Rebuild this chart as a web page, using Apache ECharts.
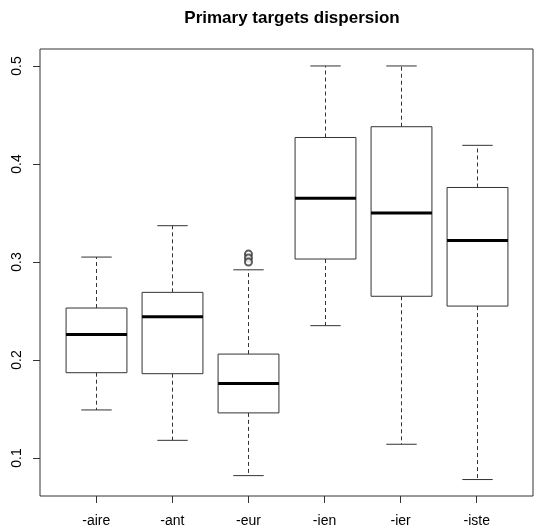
<!DOCTYPE html>
<html>
<head>
<meta charset="utf-8">
<script src="https://cdn.jsdelivr.net/npm/echarts@6/dist/echarts.min.js"></script>
<style>
  html, body { margin: 0; padding: 0; background: #fff; }
  #main { width: 534px; height: 530px; }
</style>
</head>
<body>
<div id="main"></div>
<script>
// categories (suffixes)
var categories = ['-aire', '-ant', '-eur', '-ien', '-ier', '-iste'];
// five-number summaries
var lowWhisker = [0.149, 0.118, 0.082, 0.235, 0.114, 0.078];
var q1Values   = [0.187, 0.186, 0.146, 0.303, 0.265, 0.255];
var medians    = [0.226, 0.244, 0.176, 0.365, 0.350, 0.322];
var q3Values   = [0.253, 0.269, 0.206, 0.427, 0.438, 0.376];
var highWhisker = [0.305, 0.337, 0.292, 0.500, 0.500, 0.419];
// outliers: [category index, value]
var outlierCat = [3, 3, 3];
var outlierVal = [0.308, 0.304, 0.300];
// y tick labels
var yTicks = [0.1, 0.2, 0.3, 0.4, 0.5];

var boxData = [];
for (var i = 0; i < categories.length; i++) {
    boxData.push([i + 1, lowWhisker[i], q1Values[i], medians[i], q3Values[i], highWhisker[i]]);
}
var outData = [];
for (var j = 0; j < outlierVal.length; j++) {
    outData.push([outlierCat[j], outlierVal[j]]);
}

var lineCol = '#333';

function renderBox(params, api) {
    var x = api.value(0);
    var pLow = api.coord([x, api.value(1)]);
    var pQ1 = api.coord([x, api.value(2)]);
    var pMed = api.coord([x, api.value(3)]);
    var pQ3 = api.coord([x, api.value(4)]);
    var pHigh = api.coord([x, api.value(5)]);
    var boxW = api.size([0.8, 0])[0];
    var capW = api.size([0.4, 0])[0];
    var cx = Math.round(pMed[0]) + 0.5;
    var dash = { stroke: lineCol, lineWidth: 1, lineDash: [4, 3] };
    var solid = { stroke: lineCol, lineWidth: 1 };
    return {
        type: 'group',
        children: [
            { type: 'line', shape: { x1: cx, y1: pQ3[1], x2: cx, y2: pHigh[1] }, style: dash },
            { type: 'line', shape: { x1: cx, y1: pQ1[1], x2: cx, y2: pLow[1] }, style: dash },
            { type: 'line', shape: { x1: cx - capW / 2, y1: pHigh[1], x2: cx + capW / 2, y2: pHigh[1] }, style: solid },
            { type: 'line', shape: { x1: cx - capW / 2, y1: pLow[1], x2: cx + capW / 2, y2: pLow[1] }, style: solid },
            { type: 'rect', shape: { x: cx - boxW / 2, y: pQ3[1], width: boxW, height: pQ1[1] - pQ3[1] },
              style: { fill: '#fff', stroke: lineCol, lineWidth: 1 } },
            { type: 'line', shape: { x1: cx - boxW / 2, y1: pMed[1], x2: cx + boxW / 2, y2: pMed[1] },
              style: { stroke: '#000', lineWidth: 3 } }
        ]
    };
}

var chart = echarts.init(document.getElementById('main'));
var option = {
    animation: false,
    title: {
        text: 'Primary targets dispersion',
        left: 287,
        top: 5,
        textAlign: 'center',
        textStyle: { fontFamily: 'Liberation Sans', fontWeight: 'bold', fontSize: 17, color: '#000' }
    },
    grid: {
        left: 40, right: 1, top: 49, bottom: 34,
        show: true, borderColor: lineCol, borderWidth: 1, backgroundColor: '#fff'
    },
    xAxis: {
        type: 'value',
        min: 0.26, max: 6.74,
        axisLine: { show: false },
        splitLine: { show: false },
        axisTick: { show: true, length: 7, customValues: [1, 2, 3, 4, 5, 6], lineStyle: { color: lineCol } },
        axisLabel: {
            customValues: [1, 2, 3, 4, 5, 6],
            margin: 18,
            fontFamily: 'Liberation Sans', fontSize: 14, color: '#000',
            formatter: function (v) { return categories[Math.round(v) - 1]; }
        }
    },
    yAxis: {
        type: 'value',
        min: 0.0612, max: 0.5173,
        axisLine: { show: false },
        splitLine: { show: false },
        axisTick: { show: true, length: 7, customValues: yTicks, lineStyle: { color: lineCol } },
        axisLabel: {
            customValues: yTicks,
            rotate: 90,
            margin: 16,
            fontFamily: 'Liberation Sans', fontSize: 14, color: '#000',
            formatter: function (v) { return v.toFixed(1); }
        }
    },
    series: [
        {
            type: 'custom',
            renderItem: renderBox,
            encode: { x: 0, y: [1, 2, 3, 4, 5] },
            data: boxData
        },
        {
            type: 'scatter',
            symbol: 'emptyCircle',
            symbolSize: 7,
            itemStyle: { color: lineCol, borderColor: lineCol, borderWidth: 1 },
            data: outData
        }
    ]
};
chart.setOption(option);
</script>
</body>
</html>
